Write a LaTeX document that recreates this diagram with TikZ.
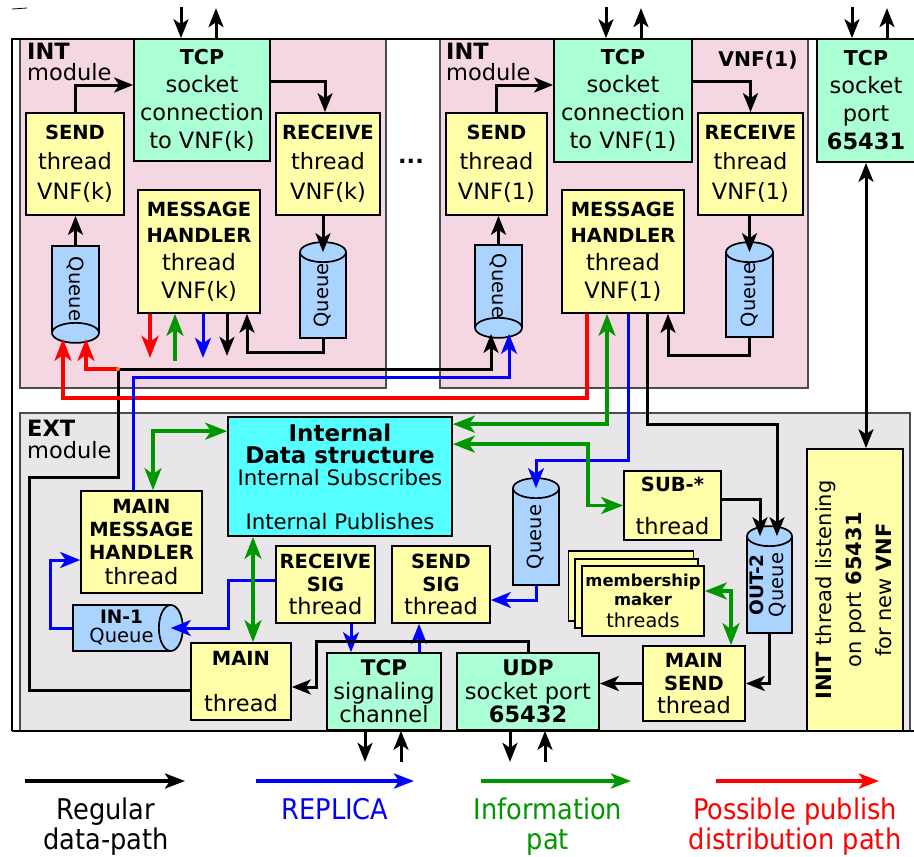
\documentclass[tikz,border=0pt]{standalone}
\usepackage{fontspec}
\usepackage{graphicx}
\setmainfont{DejaVu Sans}
\newfontfamily\legfont{DejaVu Sans Condensed}
\usetikzlibrary{arrows.meta}
\definecolor{intpink}{RGB}{244,215,227}
\definecolor{extgray}{RGB}{233,230,233}
\definecolor{sockgrn}{RGB}{170,255,213}
\definecolor{thryel}{RGB}{255,255,170}
\definecolor{datacyan}{RGB}{85,255,255}
\definecolor{qblue}{RGB}{170,212,255}
\definecolor{pathgrn}{RGB}{0,150,0}
\newcommand\fsz[2]{\fontsize{#1}{#2}\selectfont}
\newcommand\hd[2][19.5]{{\fontsize{#1}{#1}\selectfont\bfseries #2}}
\tikzset{
    module/.style={draw=black!70, line width=1.3pt},
    thr/.style={rectangle, draw=black, line width=1.7pt, fill=thryel, inner sep=0pt, align=center, font=\fsz{22.5}{28}},
    sock/.style={thr, fill=sockgrn},
    qbody/.style={rectangle, draw=black, line width=1.7pt, fill=qblue, inner sep=0pt, align=center, font=\fsz{19.5}{20}},
    qface/.style={draw=black, line width=1.7pt, fill=qblue},
    conn/.style={->, >={Stealth[length=19pt,width=15pt,inset=5pt]}, line width=3pt},
    rconn/.style={conn, >={Stealth[length=22pt,width=17pt,inset=6pt]}, red, line width=3.5pt},
    gconn/.style={conn, >={Stealth[length=22pt,width=17pt,inset=6pt]}, pathgrn, line width=3.5pt},
    bconn/.style={conn, >={Stealth[length=20pt,width=16pt,inset=5.5pt]}, blue},
    lbl/.style={inner sep=0pt, font=\fsz{22.5}{20}},
    legarrow/.style={->, >={Stealth[length=20pt,width=15pt,inset=5pt]}, line width=4pt},
    legtxt/.style={inner sep=0pt, align=center, font=\legfont\fsz{28.5}{30}}
}
\begin{document}
\begin{tikzpicture}[x=1pt, y=-1pt]
  \useasboundingbox (0,0) rectangle (914,857);
  % module backgrounds
  \draw[module, fill=intpink] (20,39) rectangle (386,388);
  \draw[module, fill=intpink] (440,39) rectangle (808,388);
  \draw[module, fill=extgray] (20,413) rectangle (910,731);
  % frame
  \draw[line width=0.8pt] (12,9) -- (27,8);
  \draw[line width=1.5pt] (914,39) -- (12,39) -- (12,731);
  \draw[line width=2.5pt] (12,731) -- (914,731);

  \node[lbl, anchor=base west] (intklbl) at (27,59.5) {\bfseries INT};
  \node[lbl, anchor=base west] (intkmod) at (27,80.5) {module};
  \node[lbl, anchor=base west] (intolbl) at (446,59.5) {\bfseries INT};
  \node[lbl, anchor=base west] (intomod) at (446,80.5) {module};
  \node[lbl, anchor=base] (vnfone) at (758,66) {\hd[20.3]{VNF(1)}};
  \node[lbl, anchor=base west] (extlbl) at (27,436.5) {\bfseries EXT};
  \node[lbl, anchor=base west] (extmod) at (27,458) {module};
  \node[lbl, anchor=base] (dots) at (411,163) {\textbf{...}};

  % INT module, VNF(k)
  \node[sock, minimum width=136pt, minimum height=122pt] (tcpk) at (202,100) {\hd[20.5]{TCP}\\socket\\connection\\to VNF(k)};
  \node[thr, minimum width=98pt, minimum height=102pt, font=\fsz{22.5}{30}] (sendk) at (75,164) {\hd{SEND}\\thread\\VNF(k)};
  \node[thr, minimum width=104pt, minimum height=102pt, font=\fsz{22.5}{30}] (recvk) at (328,164) {\hd{RECEIVE}\\thread\\VNF(k)};
  \node[thr, minimum width=122pt, minimum height=123pt] (mhk) at (199,251.5) {\hd{MESSAGE}\\[-2pt]\hd{HANDLER}\\thread\\VNF(k)};
  \node[qbody, minimum width=47pt, minimum height=86pt] (qsk) at (75.5,289) {\rotatebox{-90}{Queue}};
  \draw[qface] (qsk.south) ellipse [x radius=23.5pt, y radius=10pt];
  \node[qbody, minimum width=46pt, minimum height=85pt] (qrk) at (323,295.5) {\rotatebox{90}{Queue}};
  \draw[qface] (qrk.north) ellipse [x radius=23pt, y radius=10pt];

  % INT module, VNF(1)
  \node[sock, minimum width=138pt, minimum height=123pt] (tcpo) at (623,100.5) {\hd[20.5]{TCP}\\socket\\connection\\to VNF(1)};
  \node[thr, minimum width=101pt, minimum height=102pt, font=\fsz{22.5}{30}] (sendo) at (496.5,164) {\hd{SEND}\\thread\\VNF(1)};
  \node[thr, minimum width=105pt, minimum height=102pt, font=\fsz{22.5}{30}] (recvo) at (750.5,164) {\hd{RECEIVE}\\thread\\VNF(1)};
  \node[thr, minimum width=122pt, minimum height=123pt] (mho) at (623,251.5) {\hd{MESSAGE}\\[-2pt]\hd{HANDLER}\\thread\\VNF(1)};
  \node[qbody, minimum width=47pt, minimum height=82pt] (qso) at (498.5,286) {\rotatebox{-90}{Queue}};
  \draw[qface] (qso.south) ellipse [x radius=23.5pt, y radius=10pt];
  \node[qbody, minimum width=47pt, minimum height=84pt] (qro) at (749.5,295) {\rotatebox{90}{Queue}};
  \draw[qface] (qro.north) ellipse [x radius=23.5pt, y radius=10pt];

  \node[sock, minimum width=98pt, minimum height=123pt] (tcpport) at (866,100.5) {\hd[20.5]{TCP}\\socket\\port\\\textbf{65431}};

  % EXT module
  \node[thr, fill=datacyan, minimum width=224pt, minimum height=119pt, font=\fsz{21.3}{22}] (data) at (340,476.5)
    {{\fsz{23}{22}\bfseries Internal}\\{\fsz{23}{22}\bfseries Data structure}\\Internal Subscribes\\ \\Internal Publishes};
  \node[thr, minimum width=121pt, minimum height=102pt, font=\fsz{22.5}{23}] (mmh) at (141.5,542) {\hd{MAIN}\\\hd{MESSAGE}\\\hd{HANDLER}\\[2pt]thread};
  \node[qbody, minimum width=97pt, minimum height=46pt, font=\fsz{19.5}{19}] (inq) at (121.5,628) {\hd[18.5]{IN-1}\\Queue};
  \draw[qface] (inq.east) ellipse [x radius=12pt, y radius=23pt];
  \node[thr, minimum width=99pt, minimum height=77pt, font=\fsz{22.5}{23}] (rsig) at (325.5,584.5) {\hd{RECEIVE}\\\hd{SIG}\\thread};
  \node[thr, minimum width=98pt, minimum height=77pt, font=\fsz{22.5}{23}] (ssig) at (441,584.5) {\hd{SEND}\\\hd{SIG}\\thread};
  \node[thr, minimum width=100pt, minimum height=77pt, font=\fsz{22.5}{23}] (mainth) at (241,681.5) {\hd{MAIN}\\ \\thread};
  \node[sock, minimum width=114pt, minimum height=77pt, font=\fsz{22.5}{23.5}] (tcpsig) at (384,691.5) {\hd[21.5]{TCP}\\signaling\\channel};
  \node[sock, minimum width=142pt, minimum height=77pt, font=\fsz{22.5}{23.5}] (udp) at (528,691.5) {\hd[21.5]{UDP}\\socket port\\\textbf{65432}};
  \node[qbody, minimum width=46pt, minimum height=96pt] (qext) at (536,537) {\rotatebox{90}{Queue}};
  \draw[qface] (qext.north) ellipse [x radius=23pt, y radius=10pt];
  \node[thr, minimum width=97pt, minimum height=69pt, font=\fsz{22.5}{24}] (sub) at (672.5,505.5) {\hd{SUB-*}\\[19pt]thread};
  \node[qbody, minimum width=45pt, minimum height=96pt] (outq) at (769.5,585)
    {\rotatebox{90}{\fsz{19.5}{20}\begin{tabular}{@{}c@{}}\hd[18.5]{OUT-2}\\Queue\end{tabular}}};
  \draw[qface] (outq.north) ellipse [x radius=22.5pt, y radius=10pt];
  \node[thr, minimum width=102pt, minimum height=75pt, font=\fsz{22.5}{23}] (msend) at (694,683.5) {\hd{MAIN}\\\hd{SEND}\\thread};
  \node[thr, minimum width=125pt, minimum height=70pt] (memc) at (631,586) {};
  \node[thr, minimum width=123pt, minimum height=69pt] (memb) at (636.5,593.5) {};
  \node[thr, minimum width=122pt, minimum height=70pt, font=\fsz{19.3}{19.5}] (mema) at (643,601) {\hd[16.4]{membership}\\\hd[16.4]{maker}\\[2.5pt]threads};
  \node[thr, minimum width=96pt, minimum height=282pt] (init) at (855,590)
    {\rotatebox{90}{\fsz{21}{30}\begin{tabular}{@{}c@{}}\textbf{INIT} thread listening\\on port \textbf{65431}\\for new \textbf{VNF}\end{tabular}}};

  % outside links
  \draw[conn] ([xshift=-21pt,yshift=31pt]tcpk.north) -- ([xshift=-21pt]tcpk.north);
  \draw[conn] ([xshift=14pt]tcpk.north) -- ++(0,-30);
  \draw[conn] ([xshift=-17pt,yshift=31pt]tcpo.north) -- ([xshift=-17pt]tcpo.north);
  \draw[conn] ([xshift=18pt]tcpo.north) -- ++(0,-30);
  \draw[conn] ([xshift=-14pt,yshift=31pt]tcpport.north) -- ([xshift=-14pt]tcpport.north);
  \draw[conn] ([xshift=21pt]tcpport.north) -- ++(0,-30);
  \draw[conn] ([xshift=-19pt]tcpsig.south) -- ++(0,31);
  \draw[conn] ([xshift=17pt,yshift=-31pt]tcpsig.south) -- ([xshift=17pt]tcpsig.south);
  \draw[conn] ([xshift=-18pt]udp.south) -- ++(0,31);
  \draw[conn] ([xshift=17pt,yshift=-31pt]udp.south) -- ([xshift=17pt]udp.south);

  % INT VNF(k) paths
  \draw[conn] (sendk.north) |- ([yshift=15pt]tcpk.west);
  \draw[conn] ([yshift=19pt]tcpk.east) -| ([xshift=-3pt]recvk.north);
  \draw[conn] (qsk.north) -- (qsk.north |- sendk.south);
  \draw[conn] (recvk.south -| qrk.north) -- (qrk.north);
  \draw[conn] (qrk.south) -- ++(0,14) -| ([xshift=48pt]mhk.south);
  \draw[rconn] ([xshift=-49pt]mhk.south) -- ++(0,44);
  \draw[gconn] ([xshift=-24pt,yshift=-47pt]mhk.south) -- ([xshift=-24pt]mhk.south);
  \draw[bconn] ([xshift=4pt]mhk.south) -- ++(0,44);
  \draw[conn] ([xshift=28pt]mhk.south) -- ++(0,42);

  % INT VNF(1) paths
  \draw[conn] (sendo.north) |- ([yshift=15.5pt]tcpo.west);
  \draw[conn] ([yshift=19.5pt]tcpo.east) -| (recvo.north);
  \draw[conn] (qso.north) -- (qso.north |- sendo.south);
  \draw[conn] (recvo.south -| qro.north) -- (qro.north);
  \draw[conn] (qro.south) -- ++(0,18) -| ([xshift=45pt]mho.south);

  % between modules
  \coordinate (jn) at (118,369);
  \draw[conn] ([yshift=-8.5pt]mainth.west) -- ++(-161,0) -- ++(0,-213) -| (jn) -| ([xshift=-7.5pt,yshift=-6pt]qso.south);
  \draw[rconn] (jn) -| ([xshift=10.5pt,yshift=-6pt]qsk.south);
  \fill[orange] (jn) circle [radius=2pt];
  \draw[rconn] ([xshift=-36pt]mho.south) -- ++(0,84) -| ([xshift=-12.5pt,yshift=-6pt]qsk.south);
  \draw[bconn] ([xshift=-8.5pt]mmh.north) -- ++(0,-113) -| ([xshift=10.5pt,yshift=-6pt]qso.south);
  \draw[gconn, <->] ([xshift=-16pt]mho.south) |- ([yshift=-8pt]data.north east);
  \draw[bconn] ([xshift=5pt]mho.south) -- ++(0,147) -| (qext.north);
  \draw[conn] ([xshift=24pt]mho.south) -- ++(0,111) -| ([xshift=7.5pt]outq.north);
  \draw[conn, <->] (tcpport.south) -- (tcpport.south |- init.north);

  % EXT paths
  \draw[gconn, <->] ([yshift=-15pt]data.north west) -| ([xshift=11.5pt]mmh.north);
  \draw[bconn] (inq.west) -- ++(-22,0) |- ([yshift=-18pt]mmh.west);
  \draw[bconn] ([yshift=4pt]rsig.west) -- ++(-47,0) |- (inq.east);
  \draw[gconn, <->] ([xshift=-87pt]data.south) -- ([xshift=12pt]mainth.north);
  \draw[bconn] ([xshift=25.5pt]rsig.south) -- ([xshift=-33pt]tcpsig.north);
  \draw[bconn] ([xshift=35pt]tcpsig.north) -- ([xshift=-22pt]ssig.south);
  \draw[conn] (udp.north) -- ++(0,-11) -- ++(-212,0) |- ([yshift=-5.5pt]mainth.east);
  \draw[bconn] (qext.south) |- ([yshift=-15.5pt]ssig.east);
  \draw[gconn, <->] ([yshift=-28pt]data.north east) -- ++(135,0) |- (sub.west);
  \draw[conn] ([yshift=6.5pt]sub.east) -| ([xshift=-9.5pt]outq.north);
  \draw[conn] (outq.south) |- (msend.east);
  \draw[conn] (msend.west) -- (msend.west -| udp.east);
  \draw[gconn, <->] ([yshift=10pt]mema.east) -| ([xshift=37pt]msend.north);

  % legend
  \node[legtxt, anchor=north] (legreg) at (106,798) {Regular\\data-path};
  \node[legtxt, anchor=north, text=blue] (legrep) at (335,798) {REPLICA};
  \node[legtxt, anchor=north, text=pathgrn] (leginf) at (548,798) {Information\\pat};
  \node[legtxt, anchor=north, text=red] (legpub) at (795,798) {Possible publish\\distribution path};
  \draw[legarrow] ([xshift=-81pt,yshift=17pt]legreg.north) -- ++(160,0);
  \draw[legarrow, blue] ([xshift=-79pt,yshift=17pt]legrep.north) -- ++(158,0);
  \draw[legarrow, pathgrn] ([xshift=-67pt,yshift=17pt]leginf.north) -- ++(150,0);
  \draw[legarrow, red] ([xshift=-79pt,yshift=17pt]legpub.north) -- ++(163,0);
\end{tikzpicture}
\end{document}
